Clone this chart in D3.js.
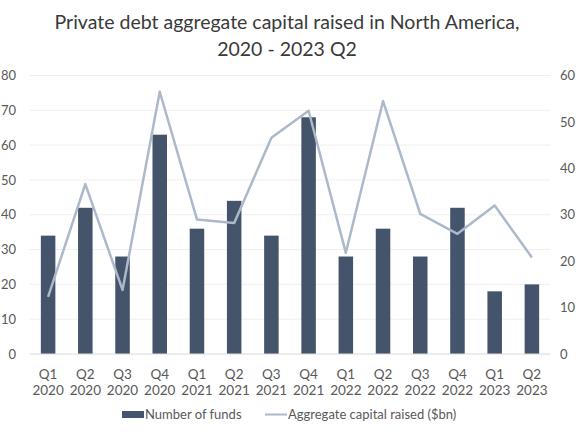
<!DOCTYPE html>
<html><head><meta charset="utf-8">
<script src="https://cdn.jsdelivr.net/npm/d3@7"></script>
<style>body{margin:0;background:#fff;} svg{display:block;font-family:Lato,"Open Sans",sans-serif;}</style>
</head><body>
<svg id="c" width="580" height="435"></svg>
<script>
const quarters = ["Q1","Q2","Q3","Q4","Q1","Q2","Q3","Q4","Q1","Q2","Q3","Q4","Q1","Q2"];
const years = ["2020","2020","2020","2020","2021","2021","2021","2021","2022","2022","2022","2022","2023","2023"];
const numberOfFunds = [34,42,28,63,36,44,34,68,28,36,28,42,18,20];
const capitalRaised = [12.3,36.6,13.8,56.5,29.0,28.2,46.6,52.4,21.8,54.5,30.2,25.9,32.0,20.8];
const leftTicks = [0,10,20,30,40,50,60,70,80];
const rightTicks = [0,10,20,30,40,50,60];
const titleLines = ["Private debt aggregate capital raised in North America,","2020 - 2023 Q2"];
const legendLabels = ["Number of funds","Aggregate capital raised ($bn)"];

const svg = d3.select("#c");
const m = {left:29.5, right:550.5, top:75.5, bottom:354};
const keys = quarters.map((q,i)=>i);
const x = d3.scaleBand().domain(keys).range([m.left,m.right]).paddingInner(0.61).paddingOuter(0.305);
const yL = d3.scaleLinear().domain([0,80]).range([m.bottom,m.top]);
const yR = d3.scaleLinear().domain([0,60]).range([m.bottom,m.top]);

// title
svg.append("g").selectAll("text").data(titleLines).join("text")
  .attr("x",287).attr("y",(d,i)=>29+i*27).attr("text-anchor","middle")
  .attr("font-size",19.5).attr("fill","#3a3a3a").text(d=>d);

// gridlines
svg.append("g").selectAll("line").data(leftTicks.filter(t=>t>0)).join("line")
  .attr("x1",m.left).attr("x2",m.right).attr("y1",d=>yL(d)).attr("y2",d=>yL(d))
  .attr("stroke","#efefef").attr("stroke-width",1);

// bars
svg.append("g").selectAll("rect").data(numberOfFunds).join("rect")
  .attr("x",(d,i)=>x(i)).attr("width",x.bandwidth())
  .attr("y",d=>yL(d)).attr("height",d=>yL(0)-yL(d))
  .attr("fill","#44546a");

// baseline
svg.append("line").attr("x1",m.left).attr("x2",m.right).attr("y1",yL(0)).attr("y2",yL(0))
  .attr("stroke","#d9d9d9").attr("stroke-width",1);

// line
const line = d3.line().x((d,i)=>x(i)+x.bandwidth()/2).y(d=>yR(d));
svg.append("path").datum(capitalRaised).attr("d",line)
  .attr("fill","none").attr("stroke","#acb9ca").attr("stroke-width",2.5).attr("stroke-linejoin","round");

// left axis labels
const axL = svg.append("g").attr("transform",`translate(16,0)`)
  .call(d3.axisLeft(yL).tickValues(leftTicks).tickSize(0).tickPadding(0));
axL.select(".domain").remove();
axL.selectAll("text").attr("font-size",13).attr("fill","#595959").attr("font-family","Lato,'Open Sans',sans-serif").attr("text-anchor","end");

// right axis labels
const axR = svg.append("g").attr("transform",`translate(560,0)`)
  .call(d3.axisRight(yR).tickValues(rightTicks).tickSize(0).tickPadding(0));
axR.select(".domain").remove();
axR.selectAll("text").attr("font-size",13).attr("fill","#595959").attr("font-family","Lato,'Open Sans',sans-serif");

// x labels
const xl = svg.append("g");
xl.selectAll("text.q").data(quarters).join("text").attr("class","q")
  .attr("x",(d,i)=>x(i)+x.bandwidth()/2).attr("y",379).attr("text-anchor","middle")
  .attr("font-size",13.5).attr("fill","#595959").text(d=>d);
xl.selectAll("text.y").data(years).join("text").attr("class","y")
  .attr("x",(d,i)=>x(i)+x.bandwidth()/2).attr("y",395).attr("text-anchor","middle")
  .attr("font-size",13.5).attr("fill","#595959").text(d=>d);

// legend
const lg = svg.append("g");
lg.append("rect").attr("x",122).attr("y",411).attr("width",22).attr("height",7).attr("fill","#44546a");
lg.append("text").attr("x",145).attr("y",419).attr("font-size",13).attr("fill","#595959").text(legendLabels[0]);
lg.append("line").attr("x1",265).attr("x2",287).attr("y1",414.5).attr("y2",414.5).attr("stroke","#acb9ca").attr("stroke-width",2);
lg.append("text").attr("x",288).attr("y",419).attr("font-size",13).attr("fill","#595959").text(legendLabels[1]);
</script>
</body></html>
